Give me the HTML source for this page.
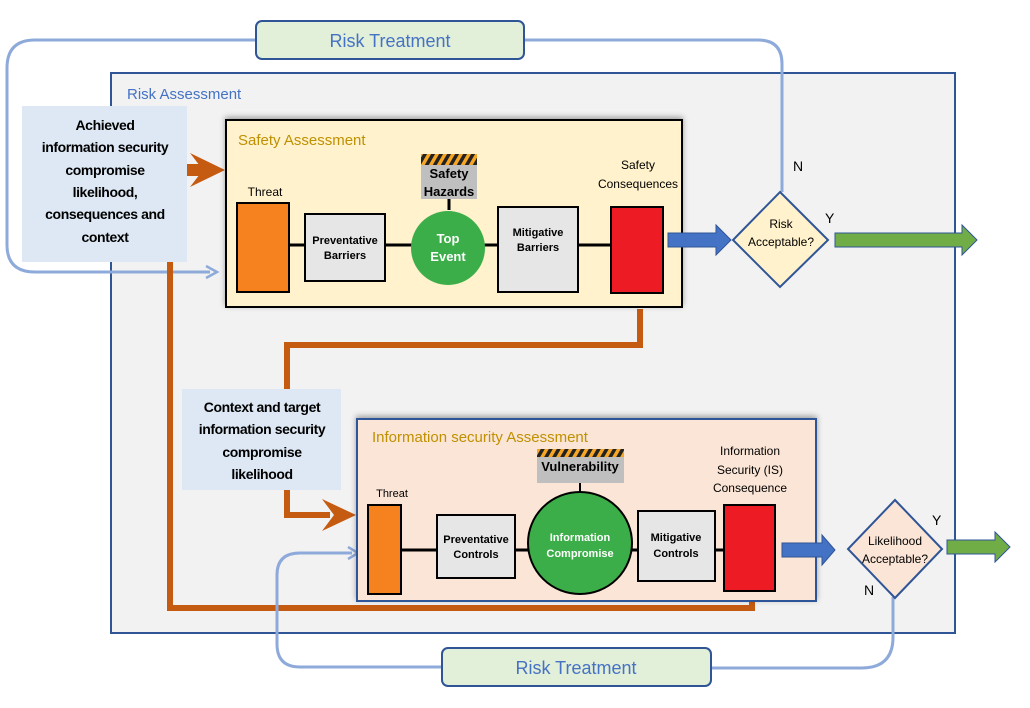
<!DOCTYPE html>
<html><head><meta charset="utf-8"><style>
body{margin:0;background:#fff}
svg{display:block;font-family:"Liberation Sans",sans-serif}
</style></head><body>
<svg width="1030" height="708" viewBox="0 0 1030 708" xmlns="http://www.w3.org/2000/svg">
<defs>
<pattern id="hz" width="8" height="8" patternUnits="userSpaceOnUse" patternTransform="skewX(-30)">
<rect width="8" height="8" fill="#f6a623"/><rect width="4" height="8" fill="#222"/>
</pattern>
<filter id="sh" x="-5%" y="-5%" width="110%" height="115%"><feDropShadow dx="0" dy="-2" stdDeviation="3" flood-opacity="0.35"/></filter>
</defs>

<rect x="111" y="73" width="844" height="560" fill="#f2f2f2" stroke="#2f5597" stroke-width="2"/>
<text x="127" y="99" font-size="15" fill="#4472c4">Risk Assessment</text>

<path d="M256 40 H35 Q7 40 7 68 V245 Q7 272 35 272 H210" fill="none" stroke="#8eaadb" stroke-width="3"/>
<path d="M206 266 L217 272 L206 278" fill="none" stroke="#8eaadb" stroke-width="2.5"/>
<path d="M524 40 H758 Q782 40 782 64 V192" fill="none" stroke="#8eaadb" stroke-width="3"/>
<rect x="256" y="21" width="268" height="38" rx="6" fill="#e2efd9" stroke="#2f5597" stroke-width="2"/>
<text x="390" y="47" font-size="18" fill="#4472c4" text-anchor="middle">Risk Treatment</text>

<path d="M170 262 V608 H752 V592" fill="none" stroke="#c55a11" stroke-width="6"/>
<path d="M640 309 V345 H287 V515 H330" fill="none" stroke="#c55a11" stroke-width="6"/>
<path d="M322 499 L356 515 L322 531 L334 515 Z" fill="#c55a11"/>

<rect x="22" y="106" width="165" height="156" fill="#dde8f4"/>
<g font-size="14" font-weight="bold" text-anchor="middle" fill="#000" letter-spacing="-0.4">
<text x="105" y="130">Achieved</text>
<text x="105" y="152">information security</text>
<text x="105" y="175">compromise</text>
<text x="105" y="197">likelihood,</text>
<text x="105" y="219">consequences and</text>
<text x="105" y="242">context</text>
</g>
<rect x="187" y="164" width="16" height="12" fill="#c55a11"/>
<path d="M190 153 L225 170 L190 187 L203 170 Z" fill="#c55a11"/>

<rect x="226" y="120" width="456" height="187" fill="#fff2cc" stroke="#000" stroke-width="2" filter="url(#sh)"/>
<text x="238" y="145" font-size="15" fill="#bf9000">Safety Assessment</text>
<line x1="289" y1="245" x2="611" y2="245" stroke="#000" stroke-width="3"/>
<line x1="449" y1="199" x2="449" y2="210" stroke="#000" stroke-width="3"/>
<text x="265" y="196" font-size="12" text-anchor="middle">Threat</text>
<rect x="237" y="203" width="52" height="89" fill="#f5821f" stroke="#000" stroke-width="2"/>
<rect x="305" y="214" width="80" height="67" fill="#e6e6e6" stroke="#000" stroke-width="2"/>
<text x="345" y="244" font-size="11" font-weight="bold" text-anchor="middle">Preventative</text>
<text x="345" y="259" font-size="11" font-weight="bold" text-anchor="middle">Barriers</text>
<rect x="421" y="154" width="56" height="11" fill="url(#hz)"/>
<rect x="421" y="165" width="56" height="34" fill="#bfbfbf"/>
<text x="449" y="178" font-size="13" font-weight="bold" text-anchor="middle">Safety</text>
<text x="449" y="196" font-size="13" font-weight="bold" text-anchor="middle">Hazards</text>
<circle cx="448" cy="248" r="37" fill="#3cae49"/>
<text x="448" y="243" font-size="13" font-weight="bold" fill="#fff" text-anchor="middle">Top</text>
<text x="448" y="261" font-size="13" font-weight="bold" fill="#fff" text-anchor="middle">Event</text>
<rect x="498" y="207" width="80" height="85" fill="#e6e6e6" stroke="#000" stroke-width="2"/>
<text x="538" y="236" font-size="11" font-weight="bold" text-anchor="middle">Mitigative</text>
<text x="538" y="251" font-size="11" font-weight="bold" text-anchor="middle">Barriers</text>
<text x="638" y="169" font-size="12" text-anchor="middle">Safety</text>
<text x="638" y="188" font-size="12" text-anchor="middle">Consequences</text>
<rect x="611" y="207" width="52" height="86" fill="#ed1c24" stroke="#000" stroke-width="2"/>

<path d="M668 233 H716 V225 L731 240 L716 255 V247 H668 Z" fill="#4472c4" stroke="#2f5597" stroke-width="1"/>
<path d="M780 192 L828 240 L780 287 L733 240 Z" fill="#fff2cc" stroke="#2f5597" stroke-width="2"/>
<text x="781" y="228" font-size="12" text-anchor="middle">Risk</text>
<text x="781" y="246" font-size="12" text-anchor="middle">Acceptable?</text>
<text x="793" y="171" font-size="14">N</text>
<text x="825" y="223" font-size="14">Y</text>
<path d="M835 233 H962 V225 L977 240 L962 255 V247 H835 Z" fill="#70ad47" stroke="#2f5597" stroke-width="1"/>

<rect x="182" y="389" width="159" height="101" fill="#dde8f4"/>
<g font-size="14" font-weight="bold" text-anchor="middle" letter-spacing="-0.4">
<text x="262" y="412">Context and target</text>
<text x="262" y="434">information security</text>
<text x="262" y="457">compromise</text>
<text x="262" y="479">likelihood</text>
</g>

<path d="M442 667 H300 Q277 667 277 644 V575 Q277 553 300 553 H352" fill="none" stroke="#8eaadb" stroke-width="3"/>
<path d="M348 547 L358 553 L348 559" fill="none" stroke="#8eaadb" stroke-width="2.5"/>
<path d="M711 668 H862 Q893 668 893 637 V597" fill="none" stroke="#8eaadb" stroke-width="3"/>
<rect x="442" y="648" width="269" height="38" rx="6" fill="#e2efd9" stroke="#2f5597" stroke-width="2"/>
<text x="576" y="674" font-size="18" fill="#4472c4" text-anchor="middle">Risk Treatment</text>

<rect x="357" y="419" width="459" height="182" fill="#fbe5d6" stroke="#2f5597" stroke-width="2" filter="url(#sh)"/>
<text x="372" y="442" font-size="15" fill="#bf9000">Information security Assessment</text>
<line x1="401" y1="550" x2="724" y2="550" stroke="#000" stroke-width="3"/>
<line x1="580" y1="482" x2="580" y2="494" stroke="#000" stroke-width="2"/>
<text x="392" y="497" font-size="11" text-anchor="middle">Threat</text>
<rect x="368" y="505" width="33" height="89" fill="#f5821f" stroke="#000" stroke-width="2"/>
<rect x="437" y="515" width="78" height="63" fill="#e6e6e6" stroke="#000" stroke-width="2"/>
<text x="476" y="543" font-size="11" font-weight="bold" text-anchor="middle">Preventative</text>
<text x="476" y="558" font-size="11" font-weight="bold" text-anchor="middle">Controls</text>
<rect x="537" y="449" width="87" height="8" fill="url(#hz)"/>
<rect x="537" y="457" width="87" height="26" fill="#bfbfbf"/>
<text x="580" y="471" font-size="13" font-weight="bold" text-anchor="middle">Vulnerability</text>
<ellipse cx="580" cy="543" rx="52" ry="51" fill="#3cae49" stroke="#000" stroke-width="2"/>
<text x="580" y="541" font-size="11" font-weight="bold" fill="#fff" text-anchor="middle">Information</text>
<text x="580" y="557" font-size="11" font-weight="bold" fill="#fff" text-anchor="middle">Compromise</text>
<rect x="638" y="511" width="77" height="70" fill="#e6e6e6" stroke="#000" stroke-width="2"/>
<text x="676" y="541" font-size="11" font-weight="bold" text-anchor="middle">Mitigative</text>
<text x="676" y="557" font-size="11" font-weight="bold" text-anchor="middle">Controls</text>
<text x="750" y="455" font-size="12" text-anchor="middle">Information</text>
<text x="750" y="474" font-size="12" text-anchor="middle">Security (IS)</text>
<text x="750" y="492" font-size="12" text-anchor="middle">Consequence</text>
<rect x="724" y="505" width="51" height="86" fill="#ed1c24" stroke="#000" stroke-width="2"/>

<path d="M782 543 H822 V535 L835 550 L822 565 V557 H782 Z" fill="#4472c4" stroke="#2f5597" stroke-width="1"/>
<path d="M895 500 L942 549 L895 598 L848 549 Z" fill="#fbe5d6" stroke="#2f5597" stroke-width="2"/>
<text x="895" y="545" font-size="12" text-anchor="middle">Likelihood</text>
<text x="895" y="563" font-size="12" text-anchor="middle">Acceptable?</text>
<text x="932" y="525" font-size="14">Y</text>
<text x="864" y="595" font-size="14">N</text>
<path d="M947 540 H995 V532 L1010 547 L995 562 V554 H947 Z" fill="#70ad47" stroke="#2f5597" stroke-width="1"/>
</svg>
</body></html>
